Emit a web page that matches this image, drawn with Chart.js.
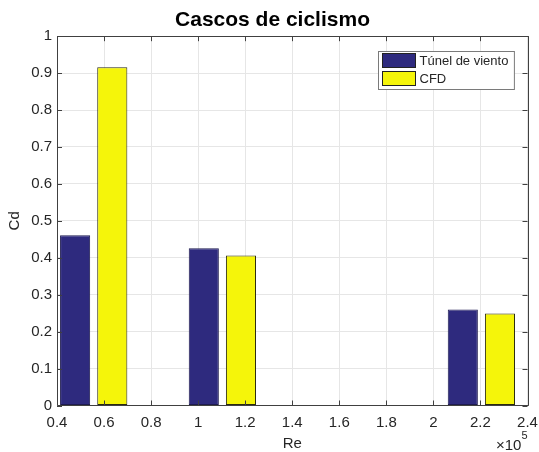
<!DOCTYPE html>
<html><head><meta charset="utf-8">
<script src="https://cdn.jsdelivr.net/npm/chart.js@4/dist/chart.umd.min.js"></script>
<style>html,body{margin:0;padding:0;background:#fff}</style>
</head><body>
<canvas id="c" width="539" height="452"></canvas>
<script>
// ---- data ----
const reynolds = [55600, 110300, 220400];          // Re group positions
const tunelDeViento = [0.461, 0.426, 0.260];       // Cd, wind tunnel
const cfd = [0.916, 0.406, 0.249];                 // Cd, CFD
const seriesNames = ['Túnel de viento', 'CFD'];
const xTickValues = [40000, 60000, 80000, 100000, 120000, 140000, 160000, 180000, 200000, 220000, 240000];
const yTickValues = [0, 0.1, 0.2, 0.3, 0.4, 0.5, 0.6, 0.7, 0.8, 0.9, 1];
const titleText = 'Cascos de ciclismo';
const xLabel = 'Re';
const yLabel = 'Cd';
const xExponent = 5;

const FONT = '"Liberation Sans", Arial, Helvetica, sans-serif';
const AXIS = '#404040';
const TXT = '#262626';

const boxTicks = {
  id: 'boxTicks',
  afterDraw(chart) {
    const {ctx, chartArea: a, scales} = chart;
    ctx.save();
    ctx.strokeStyle = AXIS; ctx.lineWidth = 1;
    ctx.beginPath();
    const L = 5;
    scales.x.ticks.forEach(t => {
      const px = Math.round(scales.x.getPixelForValue(t.value)) + 0.5;
      ctx.moveTo(px, a.bottom); ctx.lineTo(px, a.bottom - L);
      ctx.moveTo(px, a.top); ctx.lineTo(px, a.top + L);
    });
    scales.y.ticks.forEach(t => {
      const py = Math.round(scales.y.getPixelForValue(t.value)) + 0.5;
      ctx.moveTo(a.left, py); ctx.lineTo(a.left + L, py);
      ctx.moveTo(a.right, py); ctx.lineTo(a.right - L, py);
    });
    ctx.stroke();
    ctx.beginPath();
    ctx.rect(Math.round(a.left) + 0.5, Math.round(a.top) + 0.5, Math.round(a.right - a.left), Math.round(a.bottom - a.top));
    ctx.stroke();
    // exponent label
    ctx.fillStyle = TXT;
    ctx.textBaseline = 'alphabetic';
    ctx.font = '11px ' + FONT;
    ctx.textAlign = 'right';
    const sup = String(xExponent);
    const supW = ctx.measureText(sup).width;
    ctx.fillText(sup, a.right, 439);
    ctx.font = '15px ' + FONT;
    ctx.fillText('\u00d710', a.right - supW, 450);
    // legend
    const ds = chart.data.datasets;
    ctx.font = '13px ' + FONT;
    const tw = Math.max(...ds.map(d => ctx.measureText(d.label).width));
    const sw = 33, sh = 14, rowH = 18, pad = 4;
    const w = pad + sw + 4 + tw + 6;
    const h = 2 + rowH * ds.length;
    const x0 = Math.round(a.right - 14 - w) + 0.5, y0 = Math.round(a.top + 15) + 0.5;
    ctx.fillStyle = '#fff';
    ctx.fillRect(x0, y0, w, h);
    ctx.strokeStyle = '#7a7a7a';
    ctx.strokeRect(x0, y0, w, h);
    ds.forEach((d, i) => {
      const yy = y0 + 2 + i * rowH;
      ctx.fillStyle = d.backgroundColor;
      ctx.fillRect(x0 + pad, yy, sw, sh);
      ctx.strokeStyle = '#222';
      ctx.strokeRect(x0 + pad, yy, sw, sh);
      ctx.fillStyle = TXT;
      ctx.textAlign = 'left';
      ctx.textBaseline = 'middle';
      ctx.fillText(d.label, x0 + pad + sw + 4, yy + sh / 2 + 0.5);
    });
    ctx.restore();
  }
};

new Chart(document.getElementById('c'), {
  type: 'bar',
  data: {
    datasets: [
      { label: seriesNames[0], data: reynolds.map((r, i) => ({x: r, y: tunelDeViento[i]})),
        backgroundColor: '#2e2a7e', borderColor: '#1e1b50', borderWidth: 1, borderSkipped: false },
      { label: seriesNames[1], data: reynolds.map((r, i) => ({x: r, y: cfd[i]})),
        backgroundColor: '#f5f50a', borderColor: '#2a2a10', borderWidth: 1, borderSkipped: false }
    ]
  },
  plugins: [boxTicks],
  options: {
    responsive: false,
    animation: false,
    devicePixelRatio: 1,
    categoryPercentage: 1.58,
    barPercentage: 0.81,
    layout: { padding: { left: 6, right: 0, top: 0, bottom: 0 } },
    plugins: {
      legend: { display: false },
      tooltip: { enabled: false },
      title: { display: true, text: titleText, color: '#000',
        font: { family: FONT, size: 21, weight: 'bold' }, padding: { top: 8, bottom: 3 } }
    },
    scales: {
      x: {
        type: 'linear', offset: false, min: 40000, max: 240000,
        afterBuildTicks: s => { s.ticks = xTickValues.map(v => ({value: v})); },
        afterFit: s => { s.height = 46.5; s.paddingLeft = 0; s.paddingRight = 11.5; },
        ticks: { color: TXT, font: { family: FONT, size: 15 }, padding: 8, maxRotation: 0,
          callback: v => String(+(v / Math.pow(10, xExponent)).toFixed(1)) },
        grid: { color: '#e6e6e6', offset: false, drawTicks: false, tickLength: 0 },
        border: { display: false },
        title: { display: true, text: xLabel, color: TXT, font: { family: FONT, size: 15 }, padding: { top: 0, bottom: -1 } }
      },
      y: {
        min: 0, max: 1,
        afterBuildTicks: s => { s.ticks = yTickValues.map(v => ({value: v})); },
        afterFit: s => { s.width = 51; },
        ticks: { color: TXT, font: { family: FONT, size: 15 }, padding: 5,
          callback: v => String(+v.toFixed(1)) },
        grid: { color: '#e6e6e6', drawTicks: false, tickLength: 0 },
        border: { display: false },
        title: { display: true, text: yLabel, color: TXT, font: { family: FONT, size: 15 }, padding: { top: 0, bottom: 6 } }
      }
    }
  }
});
</script>
</body></html>
